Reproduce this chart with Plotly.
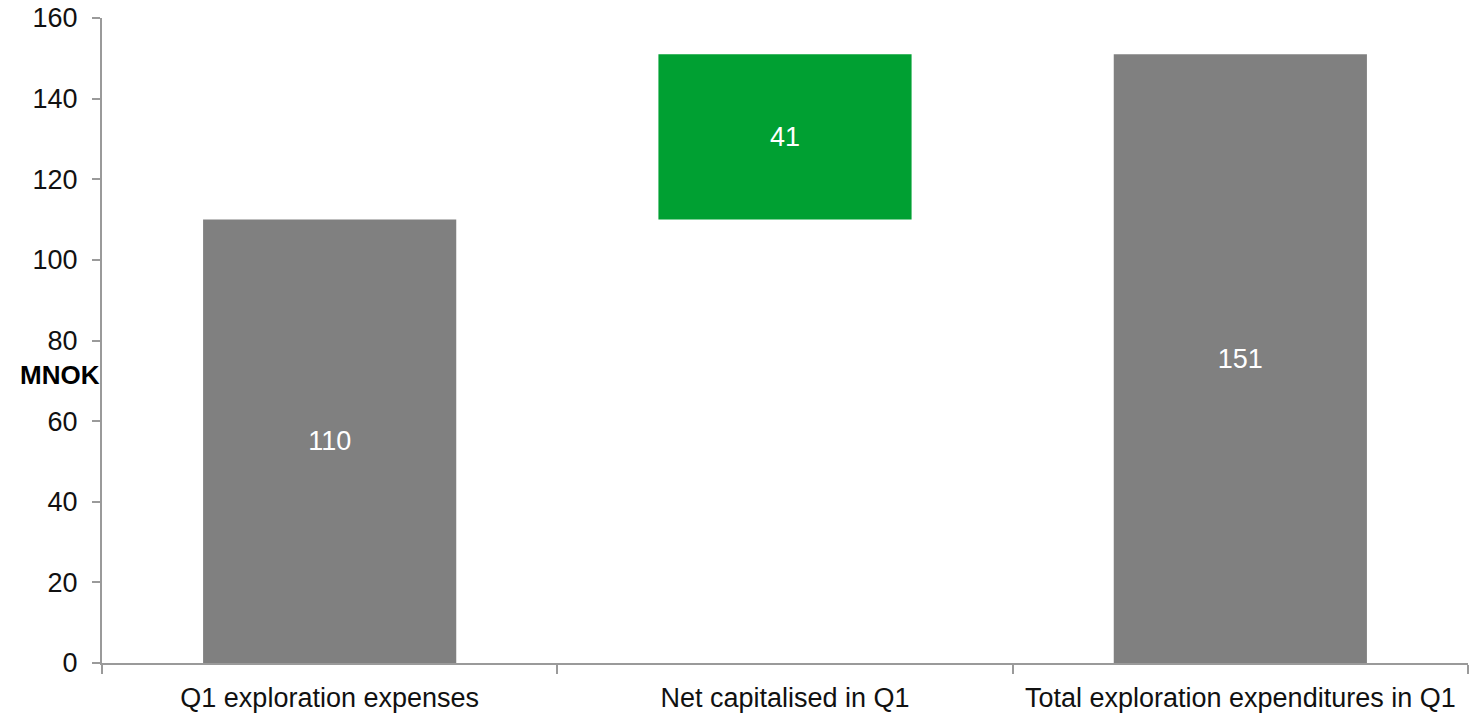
import plotly.graph_objects as go

categories = ["Q1 exploration expenses", "Net capitalised in Q1", "Total exploration expenditures in Q1"]
values = [110, 41, 151]
measures = ["absolute", "relative", "total"]
colors = ["#808080", "#00A032", "#808080"]
y_ticks = [0, 20, 40, 60, 80, 100, 120, 140, 160]

# compute bases for waterfall-style stacked bars
bases = []
running = 0
for v, m in zip(values, measures):
    if m == "relative":
        bases.append(running)
        running += v
    else:
        bases.append(0)
        running = v

FONT = "Liberation Sans"

fig = go.Figure()
fig.add_trace(go.Bar(
    x=categories,
    y=values,
    base=bases,
    marker=dict(color=colors, line=dict(width=0)),
    width=0.556,
    text=[str(v) for v in values],
    textposition="inside",
    insidetextanchor="middle",
    textfont=dict(color="white", size=27, family=FONT),
    hoverinfo="skip",
))

fig.update_layout(
    width=1472, height=719,
    margin=dict(l=102, r=4, t=18, b=56),
    paper_bgcolor="white", plot_bgcolor="white",
    showlegend=False,
    font=dict(family=FONT, color="#000000", size=27),
    xaxis=dict(
        type="category",
        range=[-0.5, 2.5],
        showline=True, linecolor="#9a9a9a", linewidth=2,
        ticks="outside", tickson="boundaries", ticklen=9, tickcolor="#9a9a9a", tickwidth=2,
        showgrid=False, zeroline=False,
        tickfont=dict(size=27, family=FONT, color="#111111"),
        ticklabelstandoff=10,
    ),
    yaxis=dict(
        range=[0, 160],
        tickvals=y_ticks,
        showline=True, linecolor="#9a9a9a", linewidth=2,
        ticks="outside", ticklen=8, tickcolor="#9a9a9a", tickwidth=2,
        showgrid=False, zeroline=False,
        tickfont=dict(size=27, family=FONT, color="#111111"),
        ticklabelstandoff=9,
    ),
    annotations=[dict(
        text="<b>MNOK</b>", xref="paper", yref="y", x=0, y=71.5,
        xanchor="right", yanchor="middle", showarrow=False,
        font=dict(size=26, family=FONT, color="#000000"),
    )],
)

fig.write_html("out.html")
